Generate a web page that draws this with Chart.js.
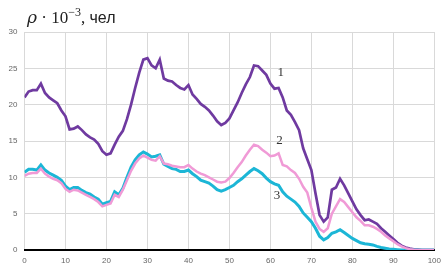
<!DOCTYPE html>
<html lang="ru">
<head>
  <meta charset="UTF-8">
  <title>rho chart</title>
  <script src="https://cdn.jsdelivr.net/npm/chart.js"></script>
  <style>
    body { margin: 0; background: #ffffff; }
    .wrap { position: relative; width: 447px; height: 278px; }
    .title {
      position: absolute; left: 27px; top: 5px;
      font-family: 'Liberation Serif', serif; font-size: 17px; color: #222;
      white-space: nowrap;
    }
    .title i { font-family: 'DejaVu Serif', serif; }
    .title sup { font-size: 12px; }
    .title .u { font-family: 'Liberation Sans', sans-serif; font-size: 16px; }
  </style>
</head>
<body>
  <div class="wrap">
    <canvas id="chart" width="447" height="278"></canvas>
    <div class="title"><i>ρ</i> · 10<sup>−3</sup>, <span class="u">чел</span></div>
  </div>

  <script>
    const xs = [];
    for (let i = 0; i <= 100; i++) xs.push(i);

    const s1 = [21.0, 21.8, 22.0, 22.0, 22.9, 21.6, 21.0, 20.6, 20.2, 19.2,
                18.4, 16.6, 16.7, 17.0, 16.5, 15.9, 15.5, 15.2, 14.6, 13.6,
                13.1, 13.3, 14.5, 15.6, 16.4, 18.0, 20.0, 22.3, 24.4, 26.2,
                26.4, 25.4, 25.0, 26.2, 23.6, 23.3, 23.2, 22.7, 22.3, 22.1,
                22.7, 21.4, 20.8, 20.1, 19.7, 19.2, 18.5, 17.7, 17.2, 17.5,
                18.1, 19.2, 20.3, 21.6, 22.8, 23.8, 25.4, 25.3, 24.7, 24.1,
                22.9, 22.2, 22.3, 21.0, 19.2, 18.6, 17.6, 16.5, 14.0, 12.5,
                11.0, 7.8, 4.8, 3.9, 4.5, 8.3, 8.6, 9.8, 8.9, 7.8,
                6.7, 5.6, 4.8, 4.1, 4.2, 3.9, 3.6, 3.0, 2.5, 2.0,
                1.5, 1.0, 0.6, 0.35, 0.2, 0.1, 0.05, 0, 0, 0, 0];

    const s2 = [10.2, 10.5, 10.6, 10.6, 11.2, 10.5, 10.1, 9.8, 9.6, 9.2,
                8.4, 8.0, 8.3, 8.2, 7.9, 7.6, 7.3, 7.0, 6.6, 6.0,
                6.2, 6.4, 7.6, 7.3, 8.3, 9.6, 10.9, 11.9, 12.6, 13.0,
                12.7, 12.4, 12.3, 12.9, 11.9, 11.8, 11.6, 11.5, 11.4, 11.4,
                11.7, 11.2, 10.8, 10.5, 10.3, 10.0, 9.7, 9.4, 9.3, 9.4,
                9.9, 10.6, 11.4, 12.1, 13.0, 13.8, 14.5, 14.3, 13.8, 13.4,
                12.9, 13.0, 13.3, 11.7, 11.5, 11.0, 10.6, 9.8, 8.7, 7.9,
                5.8, 3.9, 2.9, 2.5, 3.0, 5.0, 6.0, 7.0, 6.6, 5.9,
                5.2, 4.5, 4.0, 3.4, 3.4, 3.2, 2.9, 2.5, 2.0, 1.6,
                1.2, 0.8, 0.5, 0.25, 0.12, 0.05, 0, 0, 0, 0, 0];

    const s3 = [10.7, 11.1, 11.1, 11.0, 11.7, 11.0, 10.6, 10.3, 10.0, 9.6,
                8.8, 8.3, 8.6, 8.6, 8.2, 7.9, 7.7, 7.3, 7.0, 6.3,
                6.5, 6.7, 8.0, 7.6, 8.5, 10.0, 11.4, 12.4, 13.1, 13.5,
                13.2, 12.8, 12.9, 13.1, 11.8, 11.5, 11.2, 11.1, 10.8, 10.8,
                11.0, 10.5, 10.1, 9.6, 9.4, 9.2, 8.8, 8.3, 8.1, 8.3,
                8.6, 8.9, 9.4, 9.8, 10.3, 10.8, 11.2, 10.9, 10.5, 9.9,
                9.4, 9.1, 8.9, 8.0, 7.4, 7.0, 6.6, 6.0, 5.1, 4.5,
                3.9, 3.0, 1.9, 1.4, 1.7, 2.3, 2.5, 2.8, 2.4, 2.0,
                1.6, 1.3, 1.0, 0.85, 0.8, 0.7, 0.5, 0.35, 0.25, 0.15,
                0.1, 0.05, 0, 0, 0, 0, 0, 0, 0, 0, 0];

    // curve numbers, placed in data units
    const curveLabels = [
      { text: '1', x: 62.5, y: 24.4 },
      { text: '2', x: 62.2, y: 15.0 },
      { text: '3', x: 61.6, y: 7.5 }
    ];

    const pts = (ys) => xs.map((x, i) => ({ x: x, y: ys[i] }));

    const labelPlugin = {
      id: 'curveLabels',
      afterDatasetsDraw(chart) {
        const ctx = chart.ctx;
        const sx = chart.scales.x, sy = chart.scales.y;
        ctx.save();
        ctx.font = '13px "Liberation Serif", serif';
        ctx.fillStyle = '#333';
        ctx.textAlign = 'center';
        ctx.textBaseline = 'middle';
        curveLabels.forEach(l => {
          ctx.fillText(l.text, sx.getPixelForValue(l.x), sy.getPixelForValue(l.y));
        });
        ctx.restore();
      }
    };

    const line = (data, color, width) => ({
      data: pts(data),
      borderColor: color,
      borderWidth: width,
      pointRadius: 0,
      tension: 0,
      fill: false
    });

    new Chart(document.getElementById('chart'), {
      type: 'line',
      data: {
        datasets: [
          line(s2, '#f09ad6', 2.5),
          line(s3, '#1cb6d6', 3),
          line(s1, '#6f3aa0', 2.7)
        ]
      },
      options: {
        responsive: false,
        animation: false,
        layout: { padding: { top: 32, right: 12, left: 0, bottom: 0 } },
        plugins: { legend: { display: false }, tooltip: { enabled: false } },
        scales: {
          x: {
            type: 'linear',
            min: 0, max: 100,
            ticks: { stepSize: 10, color: '#666', font: { size: 8 }, padding: 6, maxRotation: 0 },
            grid: { color: '#d9d9d9', drawTicks: false },
            border: { color: '#000', width: 2 },
            afterFit: (s) => { s.height = 28; }
          },
          y: {
            min: 0, max: 30,
            ticks: { stepSize: 5, color: '#666', font: { size: 8 }, padding: 7 },
            grid: { color: '#d9d9d9', drawTicks: false },
            border: { display: false },
            afterFit: (s) => { s.width = 24.5; }
          }
        }
      },
      plugins: [labelPlugin]
    });
  </script>
</body>
</html>
